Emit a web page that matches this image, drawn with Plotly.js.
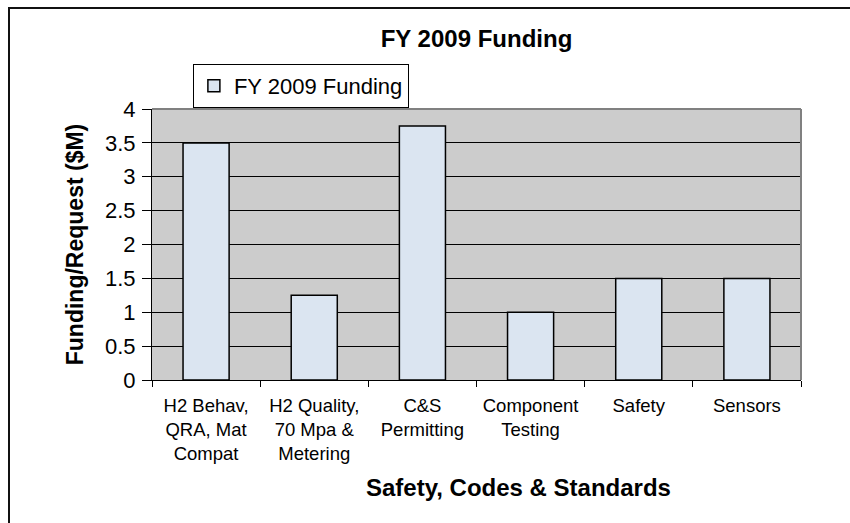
<!DOCTYPE html>
<html>
<head>
<meta charset="utf-8">
<script src="https://cdn.plot.ly/plotly-3.0.1.min.js"></script>
<style>
html,body{margin:0;padding:0;background:#fff;}
#wrap{position:relative;width:850px;height:523px;}
#chart{position:absolute;left:0;top:0;width:850px;height:523px;}
#frame{position:absolute;left:8px;top:7px;width:850px;height:530px;border-top:2px solid #111;border-left:2px solid #111;pointer-events:none;}
</style>
</head>
<body>
<div id="wrap"><div id="chart"></div><div id="frame"></div></div>
<script>
const categories = ["H2 Behav,<br>QRA, Mat<br>Compat", "H2 Quality,<br>70 Mpa &<br>Metering", "C&S<br>Permitting", "Component<br>Testing", "Safety", "Sensors"];
const funding = [3.5, 1.25, 3.75, 1.0, 1.5, 1.5];
const seriesName = "FY 2009 Funding";
const yTicks = [0, 0.5, 1, 1.5, 2, 2.5, 3, 3.5, 4];
const yTickText = ["0", "0.5", "1", "1.5", "2", "2.5", "3", "3.5", "4"];
const xTitle = "Safety, Codes & Standards";
const yTitle = "Funding/Request ($M)";
const chartTitle = "FY 2009 Funding";

const font = "Arial, 'Liberation Sans', sans-serif";

const trace = {
  type: "bar",
  x: categories,
  y: funding,
  name: seriesName,
  showlegend: true,
  marker: {color: "#dbe5f1", line: {color: "#000", width: 1.5}}
};

const layout = {
  width: 850, height: 523,
  margin: {l: 152, r: 49, t: 109, b: 143},
  paper_bgcolor: "#fff",
  plot_bgcolor: "#cccccc",
  bargap: 0.574,
  font: {family: font, color: "#000"},
  title: {text: "<b>" + chartTitle + "</b>", font: {size: 24, family: font, color: "#000"},
          xref: "paper", x: 0.5, xanchor: "center", yref: "container", y: 0.927, yanchor: "middle"},
  showlegend: true,
  legend: {x: 0.063, y: 1.166, xanchor: "left", yanchor: "top", bgcolor: "#fff",
           bordercolor: "#000", borderwidth: 1, font: {size: 22, family: font},
           itemwidth: 30},
  xaxis: {
    type: "category",
    showgrid: false, zeroline: false,
    showline: true, linecolor: "#000", linewidth: 1,
    ticks: "outside", tickson: "boundaries", ticklen: 6, tickcolor: "#000",
    tickfont: {size: 18.5, family: font},
    ticklabelstandoff: 9
  },
  yaxis: {
    range: [0, 4], tickvals: yTicks, ticktext: yTickText,
    showgrid: true, gridcolor: "#000", gridwidth: 1, zeroline: false,
    showline: true, linecolor: "#000", linewidth: 1,
    ticks: "outside", ticklen: 9, tickcolor: "#000",
    tickfont: {size: 22, family: font},
    ticklabelstandoff: 2,
    title: {text: "<b>" + yTitle + "</b>", font: {size: 23, family: font}, standoff: 14}
  },
  annotations: [
    {text: "<b>" + xTitle + "</b>", xref: "paper", yref: "paper", x: 0.565, y: -0.395,
     xanchor: "center", yanchor: "middle", showarrow: false, font: {size: 24, family: font, color: "#000"}}
  ],
  shapes: [
    {type: "line", xref: "paper", yref: "paper", x0: 0, x1: 1, y0: 1, y1: 1, line: {color: "#808080", width: 2}},
    {type: "line", xref: "paper", yref: "paper", x0: 1, x1: 1, y0: 0, y1: 1, line: {color: "#808080", width: 2}}
  ]
};

Plotly.newPlot("chart", [trace], layout, {displayModeBar: false, staticPlot: true});
</script>
</body>
</html>
